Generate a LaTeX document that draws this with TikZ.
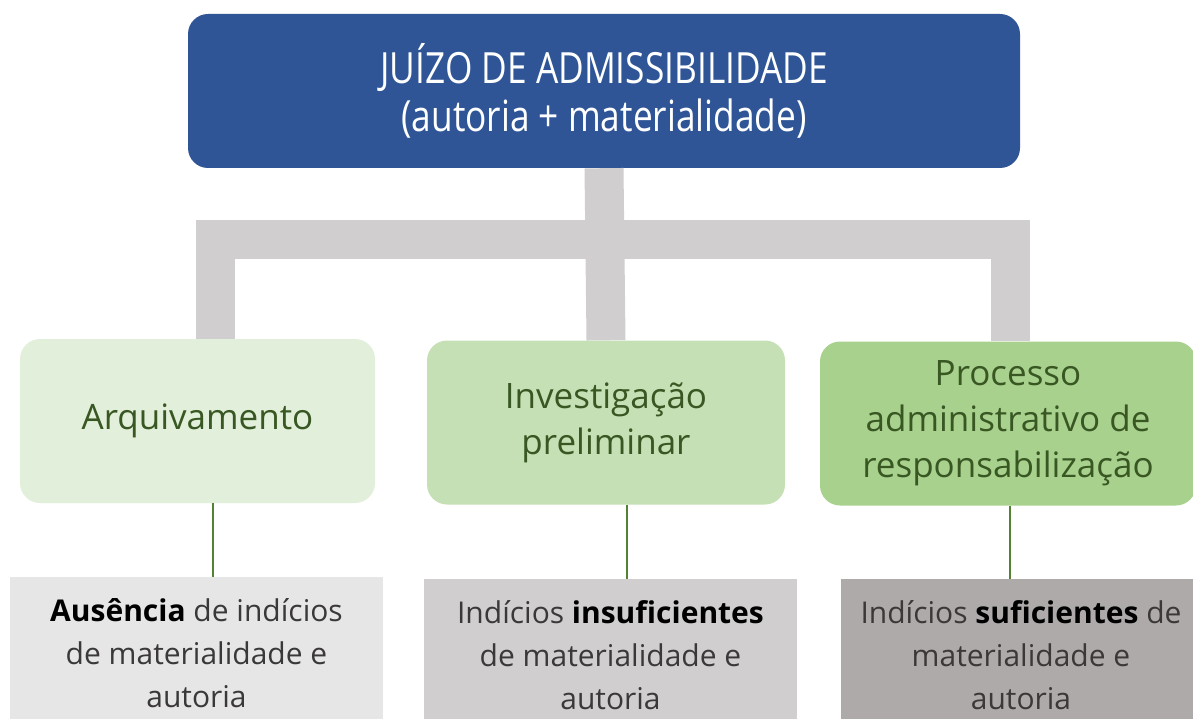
\documentclass[tikz,border=0pt]{standalone}
\usepackage{fontspec}
\setmainfont{Open Sans}
\newfontfamily\narrowfont[FakeStretch=0.82]{Open Sans}
\usetikzlibrary{positioning, calc}

\definecolor{headblue}{HTML}{2F5597}
\definecolor{bargrey}{HTML}{D0CECE}
\definecolor{greenA}{HTML}{E2EFDA}
\definecolor{greenB}{HTML}{C5E0B4}
\definecolor{greenC}{HTML}{A9D18E}
\definecolor{greentext}{HTML}{385723}
\definecolor{linkgreen}{HTML}{548235}
\definecolor{greyA}{HTML}{E7E6E6}
\definecolor{greyB}{HTML}{D0CECE}
\definecolor{greyC}{HTML}{AEAAAA}
\definecolor{greytext}{HTML}{3B3838}

\tikzset{
  headbox/.style={fill=headblue, rounded corners=20pt, minimum width=832pt, minimum height=154pt,
    text=white, align=center, font=\narrowfont\fontsize{43}{48}\selectfont},
  stagebox/.style={rounded corners=20pt, minimum height=164pt, text=greentext, align=center,
    font=\fontsize{35}{46}\selectfont},
  notebox/.style={anchor=north, minimum height=152pt, text=greytext, align=center,
    font=\fontsize{30}{43}\selectfont},
  bar/.style={draw=bargrey, line width=39pt},
  link/.style={draw=linkgreen, line width=1.3pt},
}

\begin{document}
\begin{tikzpicture}[x=1pt, y=-1pt]
    \useasboundingbox (0,0) rectangle (1193,719);

    \node[headbox] (head) at (604,91) {JUÍZO DE ADMISSIBILIDADE\\(autoria + materialidade)};

    \node[stagebox, fill=greenA, minimum width=355pt] (arq) at (197.5,421) {Arquivamento};
    \node[stagebox, fill=greenB, minimum width=358pt] (inv) at (606,422.5) {Investigação\\preliminar};
    \node[stagebox, fill=greenC, minimum width=376pt] (pad) at (1008,423.5) {Processo\\administrativo de\\responsabilização};

    \node[notebox, fill=greyA, minimum width=373pt] (aus) at (196.5,577) {\textcolor{black}{\textbf{Ausência}} de indícios\\de materialidade e\\autoria};
    \node[notebox, fill=greyB, minimum width=373pt] (insuf) at (610.5,579) {Indícios \textcolor{black}{\textbf{insuficientes}}\\de materialidade e\\autoria};
    \node[notebox, fill=greyC, minimum width=360pt] (suf) at (1021,579) {Indícios \textcolor{black}{\textbf{suficientes}} de\\materialidade e\\autoria};

    \coordinate (bus) at (0,240);
    \coordinate (dropL) at (215.5,0);
    \coordinate (dropR) at (1010.5,0);
    \draw[bar] (head.south) -- (inv.north);
    \draw[bar] (arq.north -| dropL) -- (dropL |- bus) -- (dropR |- bus) -- (pad.north -| dropR);

    \coordinate (la) at (213,0);
    \coordinate (lb) at (627,0);
    \coordinate (lc) at (1010,0);
    \draw[link] (arq.south -| la) -- (aus.north -| la);
    \draw[link] (inv.south -| lb) -- (insuf.north -| lb);
    \draw[link] (pad.south -| lc) -- (suf.north -| lc);
\end{tikzpicture}
\end{document}
